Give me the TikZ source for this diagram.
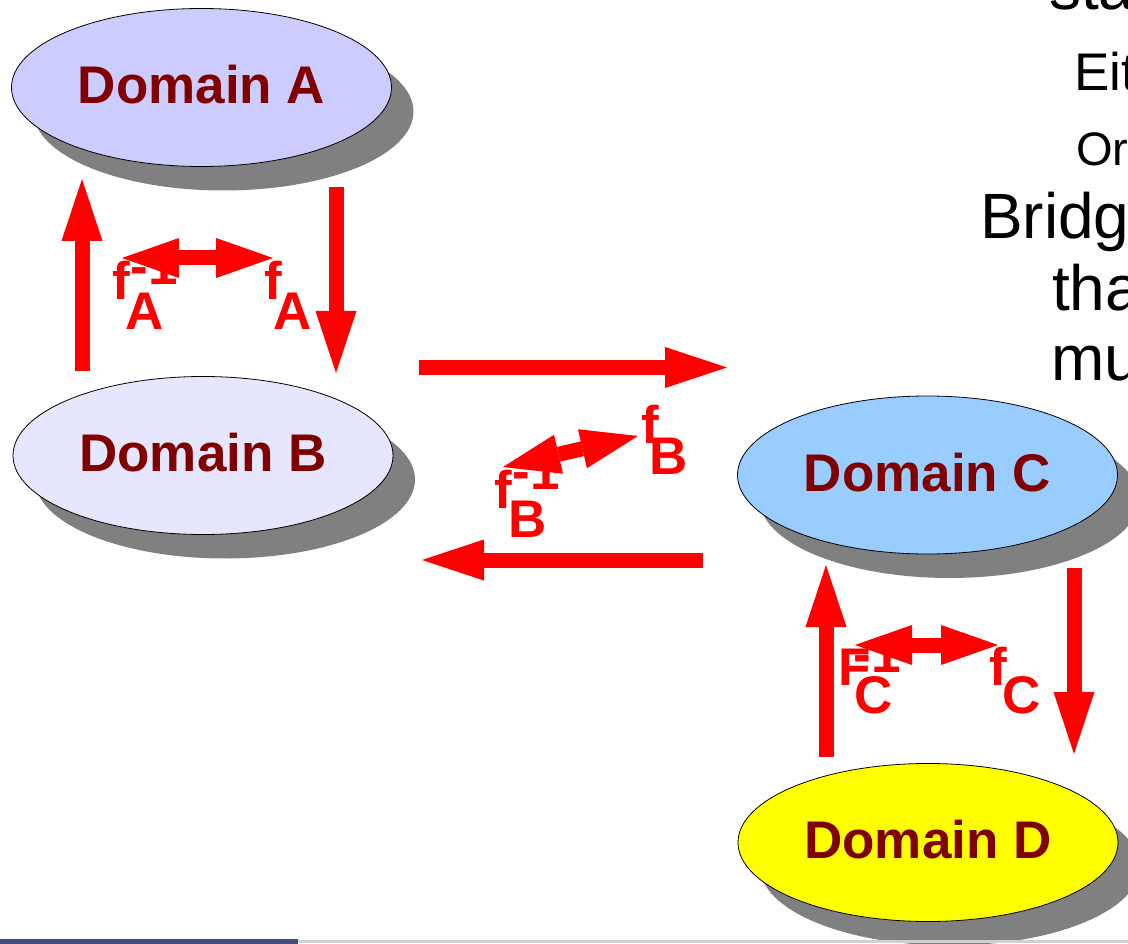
\documentclass[tikz,border=0pt]{standalone}
\usepackage{fontspec}
\setmainfont{Liberation Sans}
\usetikzlibrary{arrows.meta,shapes.geometric}
\definecolor{domtext}{HTML}{800000}
\definecolor{domshadowgray}{HTML}{808080}
\definecolor{fillA}{HTML}{CCCCFF}
\definecolor{fillB}{HTML}{E6E6FF}
\definecolor{fillC}{HTML}{99CCFF}
\definecolor{fillD}{HTML}{FFFF00}
\definecolor{barblue}{HTML}{434C7D}
\definecolor{rulegray}{HTML}{D0D0D0}
\begin{document}
\begin{tikzpicture}[x=1pt,y=-1pt,
  domshape/.style={ellipse, minimum width=380pt, minimum height=158pt, inner sep=0pt, outer sep=0pt},
  domnode/.style={domshape, draw=black, line width=0.8pt, text=domtext,
    font=\fontsize{53}{60}\selectfont\bfseries, text height=38pt, text depth=6pt},
  domshadow/.style={domshape, fill=domshadowgray},
  bigarrow/.style={draw=red, line width=15pt,
    -{Triangle[length=62pt,width=41pt,line width=0pt]}},
  dblarrow/.style={draw=red, line width=15pt,
    {Triangle[length=57pt,width=40pt,line width=0pt]}-{Triangle[length=57pt,width=40pt,line width=0pt]}},
  flabel/.style={anchor=base west, inner sep=0pt, outer sep=0pt, text=red,
    font=\fontsize{53}{60}\selectfont\bfseries},
  sidetext/.style={anchor=base west, inner sep=0pt, outer sep=0pt, text=black,
    font=\fontsize{64}{77}\selectfont}
]
\useasboundingbox (0,0) rectangle (1128,944);
\clip (0,0) rectangle (1128,944);

% drop shadows of the four domains
\node[domshadow] (shA) at (223.5,111.5) {};
\node[domshadow] (shB) at (225,479.5) {};
\node[domshadow] (shC) at (949.5,499) {};
\node[domshadow] (shD) at (950,866.5) {};

% domains
\node[domnode, fill=fillA] (A) at (201.5,87.5) {Domain A};
\node[domnode, fill=fillB] (B) at (203,455.5) {Domain B};
\node[domnode, fill=fillC] (C) at (927.5,475) {Domain C};
\node[domnode, fill=fillD] (D) at (928,842.5) {Domain D};

% bridge function labels
\node[flabel] (fAinv)    at (112,300)   {f};
\node[flabel] (fAinvsup) at (130.5,285) {-1};
\node[flabel] (fAinvsub) at (125,330)   {A};
\node[flabel] (fA)       at (264,300)   {f};
\node[flabel] (fAsub)    at (273,330)   {A};

\node[flabel] (fBinv)    at (494,508)   {f};
\node[flabel] (fBinvsup) at (512.5,489) {-1};
\node[flabel] (fBinvsub) at (508,537)   {B};
\node[flabel] (fB)       at (641,443)   {f};
\node[flabel] (fBsub)    at (649,474)   {B};

\node[flabel] (fCinv)    at (838,685)   {F};
\node[flabel] (fCinvsup) at (853.5,672) {-1};
\node[flabel] (fCinvsub) at (854,713)   {C};
\node[flabel] (fC)       at (989,685)   {f};
\node[flabel] (fCsub)    at (1002,713)  {C};

% arrow end points
\coordinate (aUpS) at (82,371);   \coordinate (aUpE) at (82,179);
\coordinate (aDnS) at (336,187);  \coordinate (aDnE) at (336,373);
\coordinate (bcS)  at (419,367.5);\coordinate (bcE)  at (727,367.5);
\coordinate (cbS)  at (703,560);  \coordinate (cbE)  at (422,560);
\coordinate (cUpS) at (826,757);  \coordinate (cUpE) at (826,565);
\coordinate (cDnS) at (1074,568); \coordinate (cDnE) at (1074,754);
\coordinate (mapAl) at (122,258); \coordinate (mapAr) at (273,258);
\coordinate (mapBl) at (503,467); \coordinate (mapBr) at (638,436);
\coordinate (mapCl) at (855,645); \coordinate (mapCr) at (998,645);

% flows between domains
\draw[bigarrow] (aUpS) -- (aUpE);
\draw[bigarrow] (aDnS) -- (aDnE);
\draw[bigarrow] (bcS) -- (bcE);
\draw[bigarrow] (cbS) -- (cbE);
\draw[bigarrow] (cUpS) -- (cUpE);
\draw[bigarrow] (cDnS) -- (cDnE);

% two-way mappings
\draw[dblarrow] (mapAl) -- (mapAr);
\draw[dblarrow] (mapBl) -- (mapBr);
\draw[dblarrow] (mapCl) -- (mapCr);

% slide text at the right edge
\node[sidetext] (t1) at (1049,10)  {sta};
\node[sidetext, font=\fontsize{53}{64}\selectfont] (t2) at (1074,91) {Eit};
\node[sidetext, font=\fontsize{47}{56}\selectfont] (t3) at (1076,166) {Or};
\node[sidetext] (t4) at (980,239)  {Bridg};
\node[sidetext] (t5) at (1052,311) {tha};
\node[sidetext] (t6) at (1051,381) {mu};

% footer strip
\fill[rulegray] (298,940) rectangle (1128,942.5);
\fill[barblue] (0,939) rectangle (298,944);
\end{tikzpicture}
\end{document}
